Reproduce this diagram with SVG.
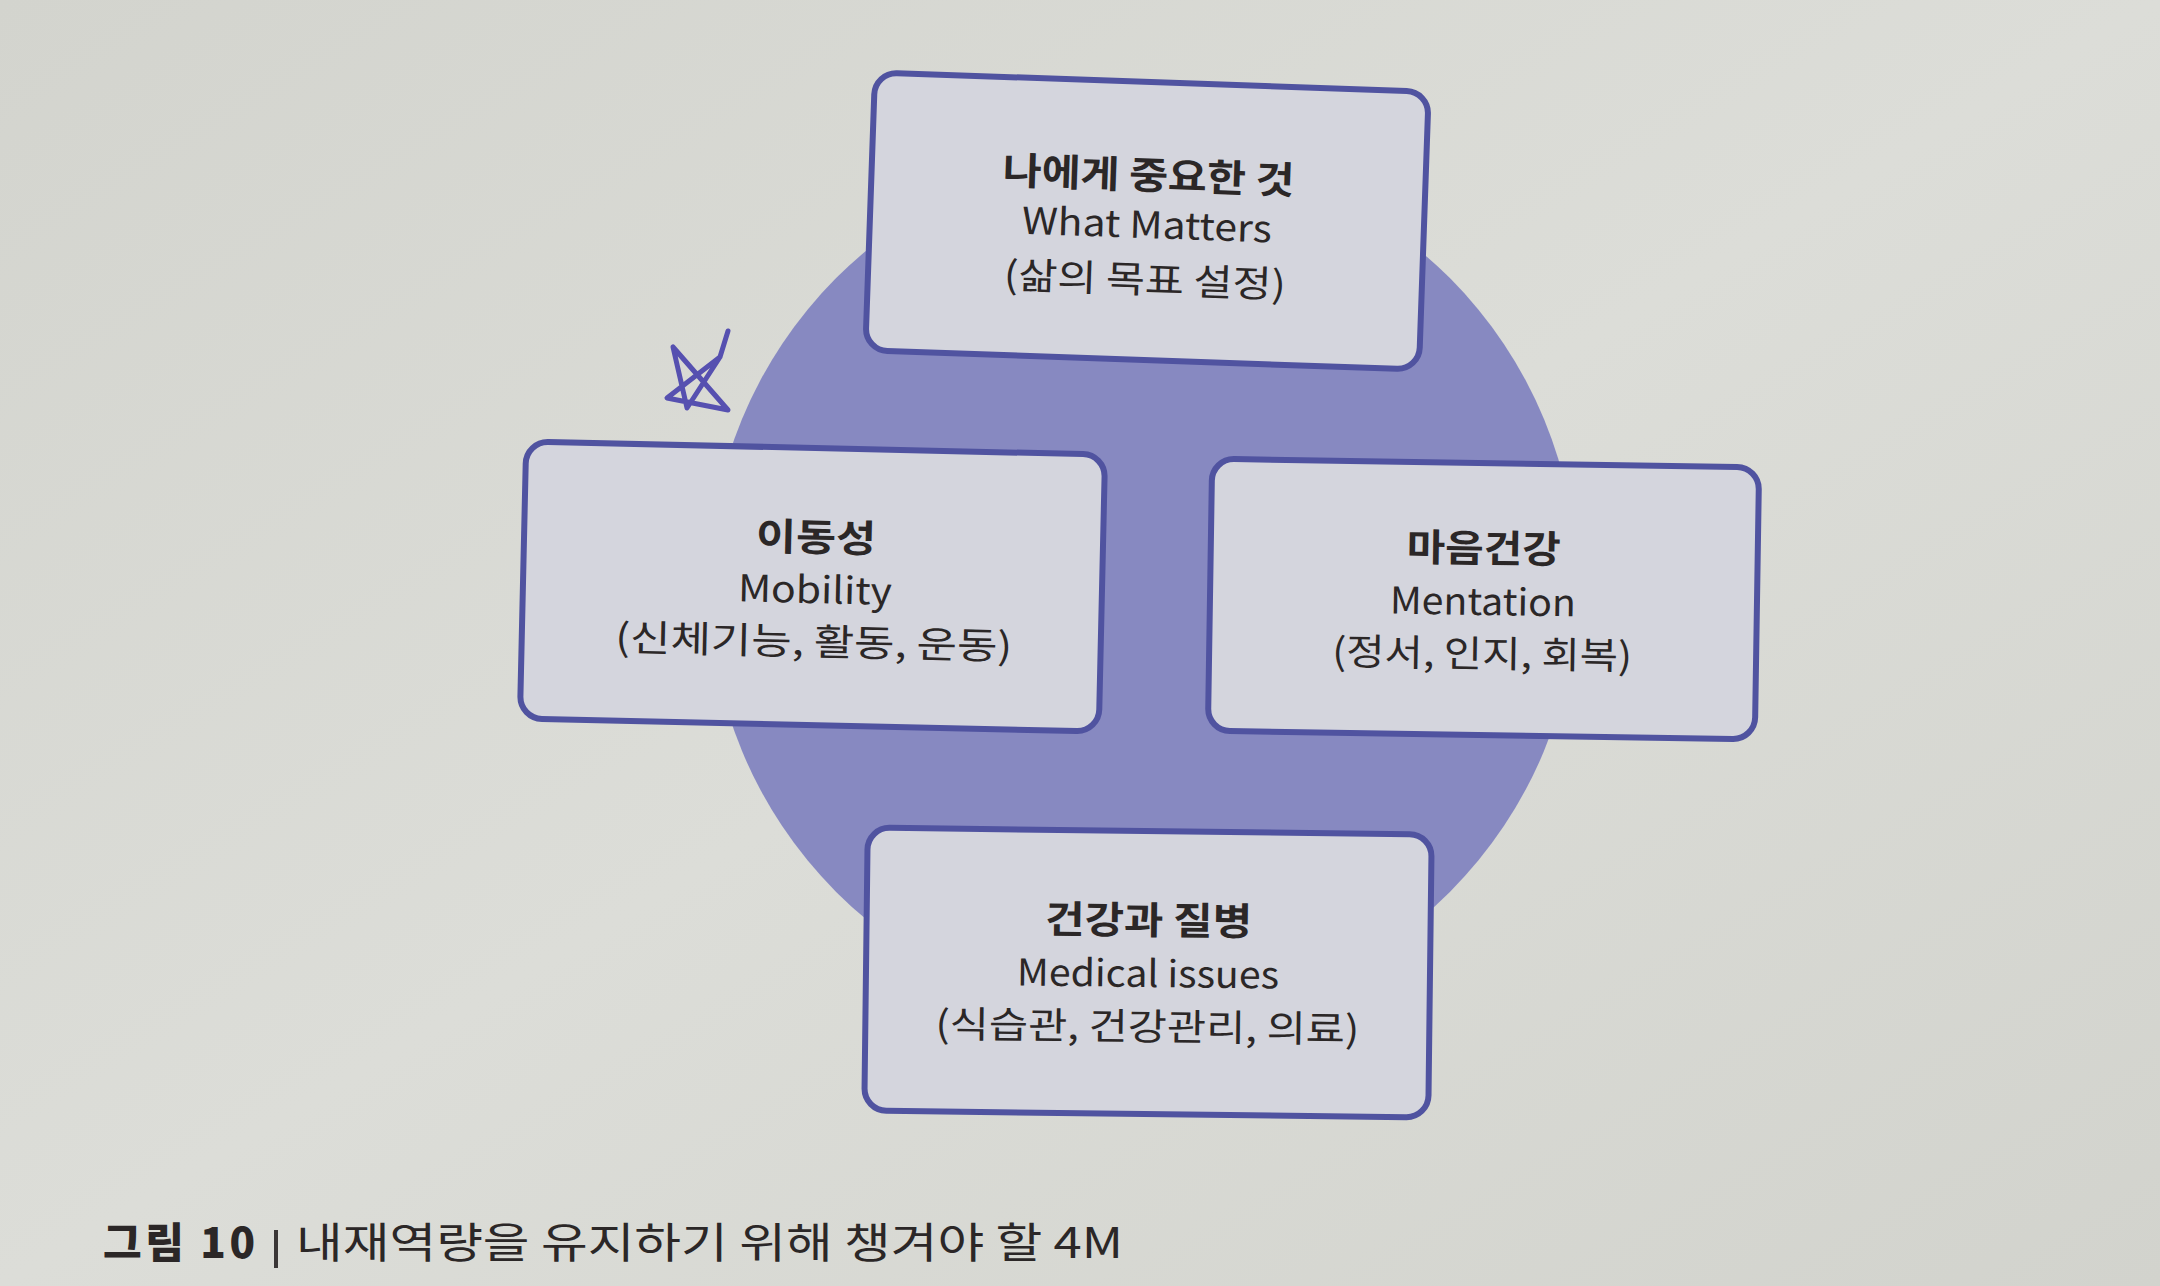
<svg xmlns="http://www.w3.org/2000/svg" width="2160" height="1286" viewBox="0 0 2160 1286">
  <defs>
    <linearGradient id="bg" x1="0" y1="0" x2="1" y2="1">
      <stop offset="0" stop-color="#d3d4ce"/>
      <stop offset="0.5" stop-color="#dcddd8"/>
      <stop offset="1" stop-color="#d2d3cd"/>
    </linearGradient>
    <style>
      .box { fill: #d4d5dd; stroke: #5053a0; stroke-width: 6; }
      .t1 { font-family: "Noto Sans CJK KR", "Noto Sans", sans-serif; font-weight: 700; font-size: 38px; fill: #2b2727; text-anchor: middle; }
      .t2 { font-family: "Noto Sans CJK KR", "Noto Sans", sans-serif; font-weight: 400; font-size: 37px; fill: #2b2727; text-anchor: middle; }
      .cap { font-family: "Noto Sans CJK KR", "Noto Sans", sans-serif; font-size: 42px; fill: #2b2727; }
    </style>
  </defs>
  <rect x="0" y="0" width="2160" height="1286" fill="url(#bg)"/>
  <circle cx="1143" cy="585" r="434" fill="#8789c1"/>

  <g id="node-what-matters" transform="rotate(2 1147 221)">
    <rect class="box" x="870" y="82" width="554" height="278" rx="22"/>
    <text class="t1" x="1147" y="189" textLength="292" lengthAdjust="spacingAndGlyphs">나에게 중요한 것</text>
    <text class="t2" x="1147" y="238" textLength="250" lengthAdjust="spacingAndGlyphs">What Matters</text>
    <text class="t2" x="1147" y="293" textLength="282" lengthAdjust="spacingAndGlyphs">(삶의 목표 설정)</text>
  </g>

  <g id="node-mobility" transform="rotate(1.3 812 586)">
    <rect class="box" x="523" y="448" width="579" height="277" rx="22"/>
    <text class="t1" x="815" y="551" textLength="120" lengthAdjust="spacingAndGlyphs">이동성</text>
    <text class="t2" x="815" y="603" textLength="154" lengthAdjust="spacingAndGlyphs">Mobility</text>
    <text class="t2" x="815" y="655" textLength="397" lengthAdjust="spacingAndGlyphs">(신체기능, 활동, 운동)</text>
  </g>

  <g id="node-mentation" transform="rotate(0.9 1483 599)">
    <rect class="box" x="1210" y="463" width="547" height="272" rx="22"/>
    <text class="t1" x="1483" y="562" textLength="154" lengthAdjust="spacingAndGlyphs">마음건강</text>
    <text class="t2" x="1483" y="615" textLength="186" lengthAdjust="spacingAndGlyphs">Mentation</text>
    <text class="t2" x="1483" y="667" textLength="300" lengthAdjust="spacingAndGlyphs">(정서, 인지, 회복)</text>
  </g>

  <g id="node-medical" transform="rotate(0.7 1148 972)">
    <rect class="box" x="866" y="831" width="564" height="283" rx="22"/>
    <text class="t1" x="1148" y="934" textLength="207" lengthAdjust="spacingAndGlyphs">건강과 질병</text>
    <text class="t2" x="1148" y="987" textLength="262" lengthAdjust="spacingAndGlyphs">Medical issues</text>
    <text class="t2" x="1148" y="1040" textLength="424" lengthAdjust="spacingAndGlyphs">(식습관, 건강관리, 의료)</text>
  </g>

  <g id="connectors"></g>

  <path id="pen-mark" d="M728,331 L720,357 L667,398 L728,410 L673,347 L687,408 L720,357" fill="none" stroke="#5650b0" stroke-width="5" stroke-linecap="round" stroke-linejoin="round"/>

  <g id="caption">
    <text class="cap" x="103" y="1258"><tspan font-weight="900" textLength="152">그림 10</tspan></text>
    <rect x="274" y="1230" width="4" height="38" fill="#3a3636"/>
    <text class="cap" x="296" y="1258" textLength="827" lengthAdjust="spacingAndGlyphs">내재역량을 유지하기 위해 챙겨야 할 4M</text>
  </g>
</svg>
